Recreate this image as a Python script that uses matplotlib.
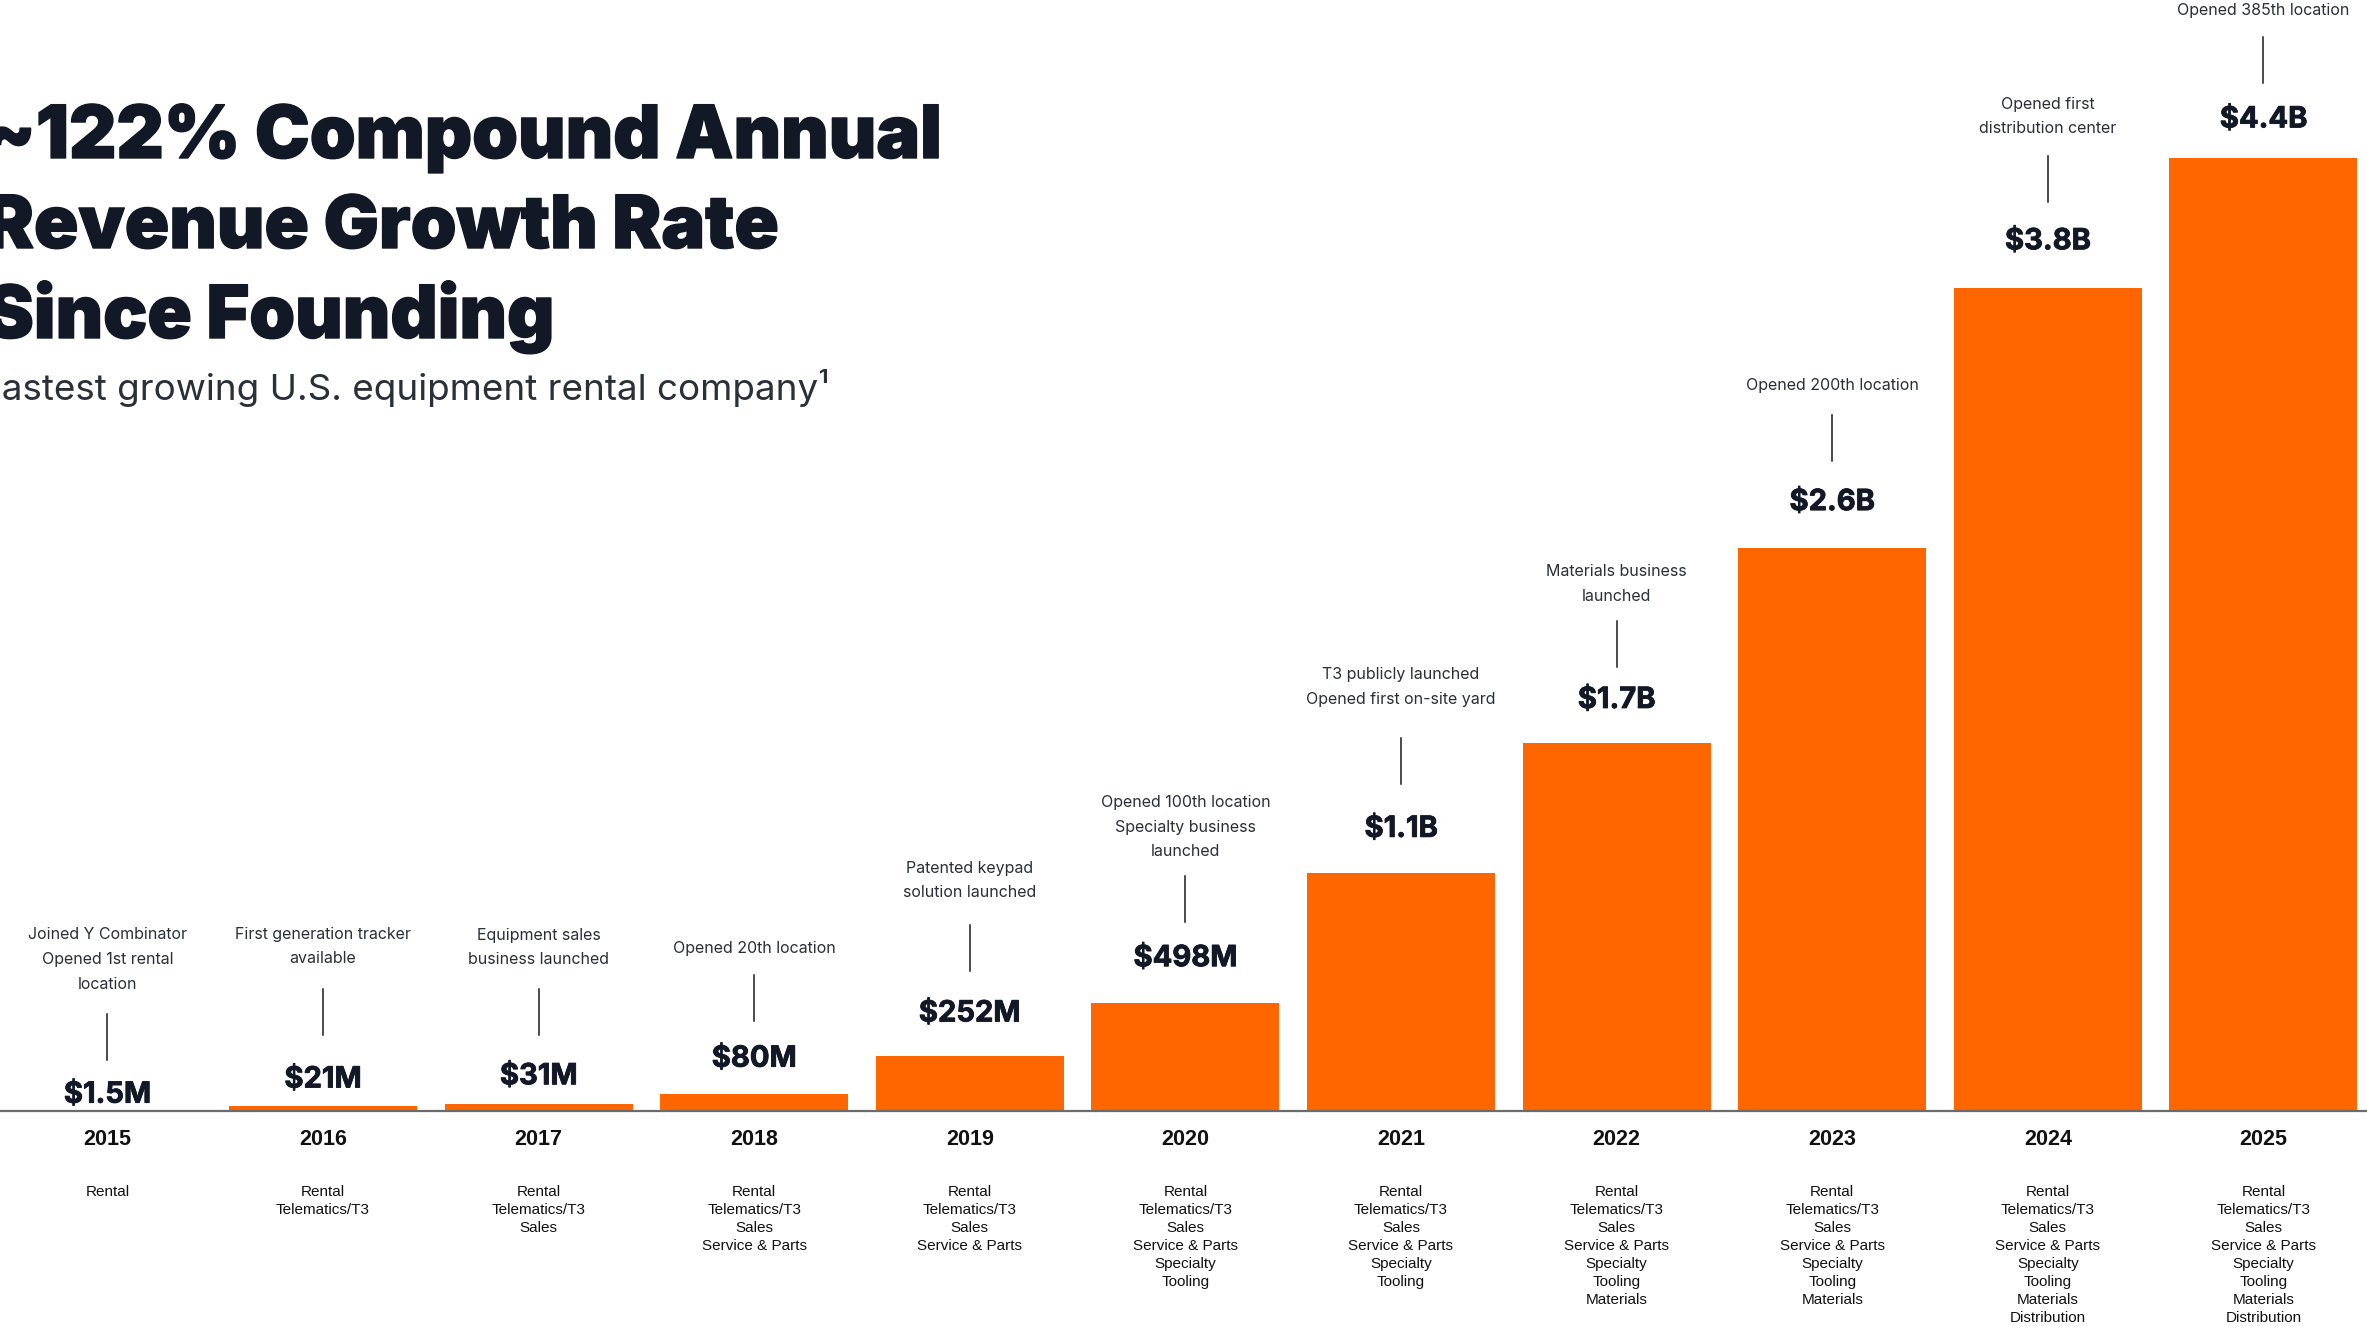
import matplotlib
matplotlib.use("Agg")
import matplotlib.pyplot as plt
import matplotlib.patheffects as pe

# ---------------- data ----------------
years = ["2015", "2016", "2017", "2018", "2019", "2020",
         "2021", "2022", "2023", "2024", "2025"]
revenue_b = [0.0015, 0.021, 0.031, 0.080, 0.252, 0.498,
             1.1, 1.7, 2.6, 3.8, 4.4]
value_labels = ["$1.5M", "$21M", "$31M", "$80M", "$252M", "$498M",
                "$1.1B", "$1.7B", "$2.6B", "$3.8B", "$4.4B"]
milestones = [
    "Joined Y Combinator\nOpened 1st rental\nlocation",
    "First generation tracker\navailable",
    "Equipment sales\nbusiness launched",
    "Opened 20th location",
    "Patented keypad\nsolution launched",
    "Opened 100th location\nSpecialty business\nlaunched",
    "T3 publicly launched\nOpened first on-site yard",
    "Materials business\nlaunched",
    "Opened 200th location",
    "Opened first\ndistribution center",
    "Opened 385th location",
]
business_lines = [
    "Rental",
    "Rental\nTelematics/T3",
    "Rental\nTelematics/T3\nSales",
    "Rental\nTelematics/T3\nSales\nService & Parts",
    "Rental\nTelematics/T3\nSales\nService & Parts",
    "Rental\nTelematics/T3\nSales\nService & Parts\nSpecialty\nTooling",
    "Rental\nTelematics/T3\nSales\nService & Parts\nSpecialty\nTooling",
    "Rental\nTelematics/T3\nSales\nService & Parts\nSpecialty\nTooling\nMaterials",
    "Rental\nTelematics/T3\nSales\nService & Parts\nSpecialty\nTooling\nMaterials",
    "Rental\nTelematics/T3\nSales\nService & Parts\nSpecialty\nTooling\nMaterials\nDistribution",
    "Rental\nTelematics/T3\nSales\nService & Parts\nSpecialty\nTooling\nMaterials\nDistribution",
]
title_lines = ["~122% Compound Annual", "Revenue Growth Rate", "Since Founding"]
subtitle = "Fastest growing U.S. equipment rental company\u00b9"

# ---------------- layout (pixels) ----------------
FIG_W, FIG_H, DPI = 2367, 1326, 100
X_FIRST, X_PITCH, BAR_W = 107.4, 215.6, 188.0
BASE_PX = 1111.0          # baseline, from top
PX_PER_B = 216.5
label_gap = [19, 30, 31, 38, 46, 48, 47, 46, 49, 50, 42]   # value label centre above bar top
vline_gap = [32, 41, 38, 35, 39, 33, 42, 30, 38, 36, 33]   # label centre -> connector bottom
text_gap = [32, 33, 32, 29, 35, 27, 41, 27, 32, 30, 29]    # connector top -> last text line centre
VLINE_LEN = 46

ORANGE = "#FF6600"
NAVY = "#121826"
GREY_TXT = "#2a2f38"

fig = plt.figure(figsize=(FIG_W / DPI, FIG_H / DPI), dpi=DPI)
ax = fig.add_axes([0, 0, 1, 1])
ax.set_xlim(-X_FIRST / X_PITCH, (FIG_W - X_FIRST) / X_PITCH)
ybot = -(FIG_H - BASE_PX) / PX_PER_B
ytop = BASE_PX / PX_PER_B
ax.set_ylim(ybot, ytop)
ax.axis("off")
k = (ytop - ybot) / FIG_H      # data units per pixel

xs = list(range(len(years)))
ax.bar(xs, revenue_b, width=BAR_W / X_PITCH, color=ORANGE, zorder=2)
ax.axhline(0, color="#6b6b6b", lw=1.6, zorder=3)

for i, v in enumerate(revenue_b):
    g = label_gap[i]
    vg = vline_gap[i]
    tg = text_gap[i]
    # value label (baseline ~11px below visual centre)
    ax.annotate(value_labels[i], xy=(i, v), xytext=(0, g - 11),
                textcoords="offset pixels", ha="center", va="baseline",
                fontsize=21, fontweight="bold", family="Inter", color=NAVY,
                path_effects=[pe.withStroke(linewidth=0.6, foreground=NAVY)])
    # vertical connector
    ax.plot([i, i], [v + (g + vg) * k, v + (g + vg + VLINE_LEN) * k],
            color="#1a1a1a", lw=1.1, zorder=3)
    # milestone text
    ax.annotate(milestones[i], xy=(i, v),
                xytext=(0, g + vg + VLINE_LEN + tg - 10),
                textcoords="offset pixels", ha="center", va="bottom",
                fontsize=11.5, family="Inter", color=GREY_TXT, linespacing=1.8)
    # year
    ax.annotate(years[i], xy=(i, 0), xytext=(0, -34), textcoords="offset pixels",
                ha="center", va="baseline", fontsize=15.5, fontweight="bold",
                family="Liberation Sans", color="#111111")
    # business lines
    ax.annotate(business_lines[i], xy=(i, 0), xytext=(0, -74),
                textcoords="offset pixels", ha="center", va="top",
                fontsize=11, family="Liberation Sans", color="#111111",
                linespacing=1.36)

# title + subtitle
title_base = [158, 248, 338]
for line, by in zip(title_lines, title_base):
    fig.text(-15 / FIG_W, 1 - by / FIG_H, line, ha="left", va="baseline",
             fontsize=52.8, fontweight="black", family="Inter", color=NAVY,
             path_effects=[pe.withStroke(linewidth=1.0, foreground=NAVY)])
fig.text(-20 / FIG_W, 1 - 400 / FIG_H, subtitle, ha="left", va="baseline",
         fontsize=26.5, family="Inter", color=GREY_TXT)

fig.savefig("out.png", dpi=DPI, facecolor="white")
